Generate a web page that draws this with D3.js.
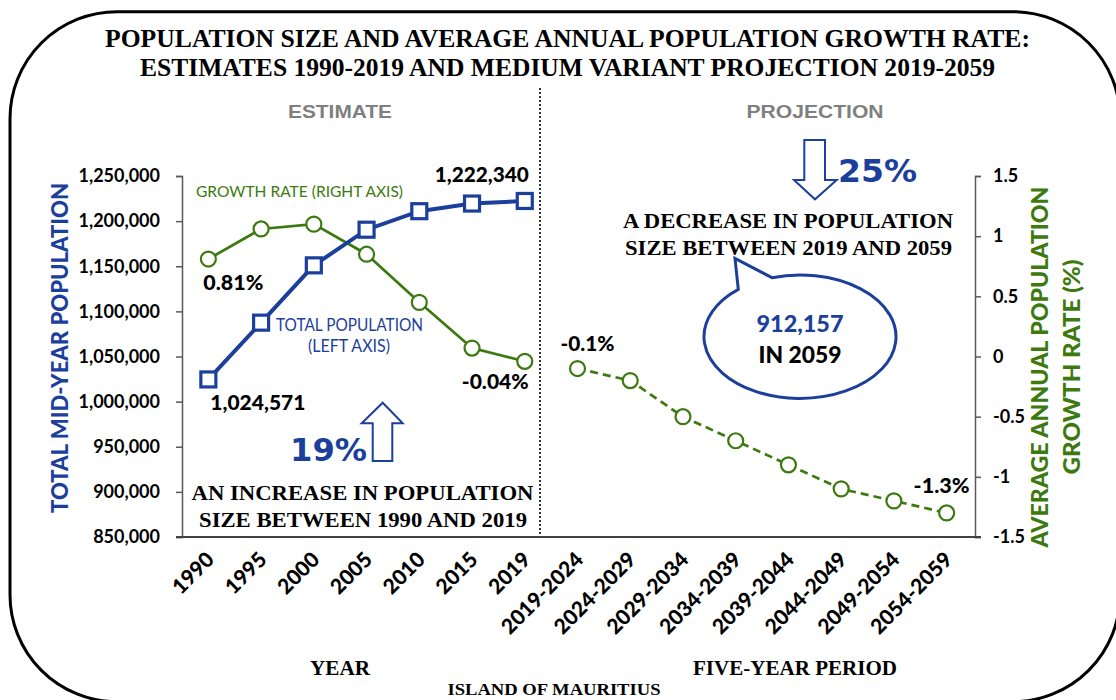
<!DOCTYPE html>
<html><head><meta charset="utf-8">
<script src="https://cdn.jsdelivr.net/npm/d3@7"></script>
<style>body{margin:0;background:#fff}svg{display:block}</style>
</head><body>
<svg id="chart" width="1116" height="700"></svg>
<script>
// ---- data ----
const estimateYears = ["1990","1995","2000","2005","2010","2015","2019"];
const projectionPeriods = ["2019-2024","2024-2029","2029-2034","2034-2039","2039-2044","2044-2049","2049-2054","2054-2059"];
const categories = estimateYears.concat(projectionPeriods);
const totalPopulation = [1024571, 1087500, 1151000, 1190500, 1211000, 1219500, 1222340];
const growthEstimate = [0.81, 1.06, 1.10, 0.85, 0.45, 0.07, -0.04];
const growthProjection = [-0.1, -0.2, -0.5, -0.7, -0.9, -1.1, -1.2, -1.3];
const populationTicks = [850000, 900000, 950000, 1000000, 1050000, 1100000, 1150000, 1200000, 1250000];
const rateTicks = [-1.5, -1, -0.5, 0, 0.5, 1, 1.5];

// ---- styles ----
const BLUE = "#1c3f9c", GREEN = "#3c7a10", GRAY = "#7f7f7f", AXIS = "#595959";
const SANS = "Lato, 'Open Sans', sans-serif";
const SERIF = "'Liberation Serif', 'Times New Roman', serif";
const BIG = "'DejaVu Sans', Verdana, sans-serif";
const ARIAL = "'Liberation Sans', Arial, sans-serif";

const svg = d3.select("#chart");
svg.append("rect").attr("width",1116).attr("height",700).attr("fill","#fff");

// frame
svg.append("rect").attr("x",10).attr("y",11.7).attr("width",1110).attr("height",690)
  .attr("rx",107).attr("ry",107).attr("fill","none").attr("stroke","#000").attr("stroke-width",3);

const x = d3.scaleBand().domain(categories).range([182, 973]).paddingInner(0).paddingOuter(0);
const cx = d => x(d) + x.bandwidth()/2;
const yL = d3.scaleLinear().domain([850000, 1250000]).range([537, 176]);
const yR = d3.scaleLinear().domain([-1.5, 1.5]).range([537, 176]);

function txt(t, xx, yy, o) {
  const e = svg.append("text").attr("x", xx).attr("y", yy).text(t)
    .attr("font-family", o.family || SANS).attr("font-size", o.size)
    .attr("font-weight", o.weight || "bold").attr("fill", o.fill || "#000")
    .attr("text-anchor", o.anchor || "start");
  if (o.len) e.attr("textLength", o.len).attr("lengthAdjust", "spacingAndGlyphs");
  if (o.transform) e.attr("transform", o.transform);
  return e;
}

// title
txt("POPULATION SIZE AND AVERAGE ANNUAL POPULATION GROWTH RATE:", 105, 47, {family:SERIF, size:26, len:925});
txt("ESTIMATES 1990-2019 AND MEDIUM VARIANT PROJECTION 2019-2059", 140, 76, {family:SERIF, size:26, len:855});

// section headings
txt("ESTIMATE", 340, 118, {family:ARIAL, size:18, fill:GRAY, anchor:"middle", len:104});
txt("PROJECTION", 815, 118, {family:ARIAL, size:18, fill:GRAY, anchor:"middle", len:137});

// divider
svg.append("line").attr("x1",540).attr("x2",540).attr("y1",88).attr("y2",537)
  .attr("stroke","#333").attr("stroke-width",2).attr("stroke-dasharray","2,2");

// axes
const gL = svg.append("g").attr("transform","translate(182,0)")
  .call(d3.axisLeft(yL).tickValues(populationTicks).tickFormat(d3.format(",")).tickSize(6).tickPadding(16));
const gR = svg.append("g").attr("transform","translate(975,0)")
  .call(d3.axisRight(yR).tickValues(rateTicks).tickFormat(d => String(d)).tickSize(6).tickPadding(12));
[gL, gR].forEach(g => {
  g.select(".domain").attr("stroke", AXIS).attr("stroke-width", 1.5);
  g.selectAll(".tick line").attr("stroke", AXIS).attr("stroke-width", 1.5);
  g.selectAll(".tick text").attr("font-family", SANS).attr("font-size", 18).attr("font-weight","bold").attr("fill","#000");
});
svg.append("line").attr("x1",176).attr("x2",981).attr("y1",537).attr("y2",537)
  .attr("stroke","#404040").attr("stroke-width",2);

// x tick labels
svg.append("g").selectAll("text").data(categories).join("text")
  .attr("transform", d => `translate(${cx(d)+7},561) rotate(-45)`)
  .attr("text-anchor","end").attr("font-family",SANS).attr("font-size",21).attr("font-weight","900")
  .text(d => d);

// axis titles
txt("TOTAL MID-YEAR POPULATION", 68, 348, {size:22, weight:"900", fill:BLUE, anchor:"middle", len:330, transform:"rotate(-90,68,348)"});
txt("AVERAGE ANNUAL POPULATION", 1048, 367, {size:22, weight:"900", fill:GREEN, anchor:"middle", len:361, transform:"rotate(-90,1048,367)"});
txt("GROWTH RATE (%)", 1079.5, 367, {size:22, weight:"900", fill:GREEN, anchor:"middle", len:215, transform:"rotate(-90,1079.5,367)"});
txt("YEAR", 340, 675, {family:SERIF, size:20, anchor:"middle", len:60});
txt("FIVE-YEAR PERIOD", 795, 675, {family:SERIF, size:20, anchor:"middle", len:204});
txt("ISLAND OF MAURITIUS", 554, 695, {family:SERIF, size:17, anchor:"middle", len:213});

// growth rate lines
const estPts = estimateYears.map((c,i) => [cx(c), yR(growthEstimate[i])]);
const projPts = projectionPeriods.map((c,i) => [cx(c), yR(growthProjection[i])]);
const line = d3.line();
svg.append("path").attr("d", line(estPts)).attr("fill","none").attr("stroke",GREEN).attr("stroke-width",2.7);
svg.append("path").attr("d", line(projPts)).attr("fill","none").attr("stroke",GREEN).attr("stroke-width",2.7)
  .attr("stroke-dasharray","8,5");
svg.append("g").selectAll("circle").data(estPts.concat(projPts)).join("circle")
  .attr("cx", d => d[0]).attr("cy", d => d[1]).attr("r", 7.5)
  .attr("fill","#fff").attr("stroke",GREEN).attr("stroke-width",2.2);

// population line
const popPts = estimateYears.map((c,i) => [cx(c), yL(totalPopulation[i])]);
svg.append("path").attr("d", line(popPts)).attr("fill","none").attr("stroke",BLUE).attr("stroke-width",4);
svg.append("g").selectAll("rect").data(popPts).join("rect")
  .attr("x", d => d[0]-7.5).attr("y", d => d[1]-7.5).attr("width",15).attr("height",15)
  .attr("fill","#fff").attr("stroke",BLUE).attr("stroke-width",3.2);

// value labels (anchored to data points)
const fmt = d3.format(",");
const p0 = popPts[0], pN = popPts[popPts.length-1];
txt(fmt(totalPopulation[0]), p0[0]+2, p0[1]+31, {size:20, weight:"900", len:95});
txt(fmt(totalPopulation[totalPopulation.length-1]), pN[0]+4, pN[1]-19, {size:20, weight:"900", anchor:"end", len:94});
const g0 = estPts[0], gN = estPts[estPts.length-1];
txt(growthEstimate[0] + "%", g0[0]-5, g0[1]+31, {size:20, weight:"900", len:60});
txt(growthEstimate[growthEstimate.length-1] + "%", gN[0]+4, gN[1]+28, {size:20, weight:"900", anchor:"end", len:67});
const q0 = projPts[0], qN = projPts[projPts.length-1];
txt(growthProjection[0] + "%", q0[0]-17, q0[1]-18, {size:20, weight:"900", len:54});
txt(growthProjection[growthProjection.length-1] + "%", qN[0]-33, qN[1]-20, {size:20, weight:"900", len:56});

// series labels
txt("GROWTH RATE (RIGHT AXIS)", 196, 196.7, {size:16, weight:"normal", fill:GREEN, len:207});
txt("TOTAL POPULATION", 349.5, 330.7, {size:17, weight:"normal", fill:BLUE, anchor:"middle", len:147});
txt("(LEFT AXIS)", 349, 351.7, {size:17, weight:"normal", fill:BLUE, anchor:"middle", len:82});

// increase annotation
svg.append("path").attr("d","M382.7,402.7 L402.7,423.3 L392.3,423.3 L392.3,461 L372.7,461 L372.7,423.3 L361.7,423.3 Z")
  .attr("fill","#fff").attr("stroke",BLUE).attr("stroke-width",2);
txt("19%", 290, 461, {family:BIG, size:32, fill:BLUE, len:77});
txt("AN INCREASE IN POPULATION", 362.5, 500, {family:SERIF, size:20, anchor:"middle", len:342});
txt("SIZE BETWEEN 1990 AND 2019", 363, 527, {family:SERIF, size:20, anchor:"middle", len:328});

// decrease annotation
svg.append("path").attr("d","M804.3,140 L825,140 L825,180 L836.7,180 L815,199.3 L794,180 L804.3,180 Z")
  .attr("fill","#fff").attr("stroke",BLUE).attr("stroke-width",2);
txt("25%", 838, 181.7, {family:BIG, size:32, fill:BLUE, len:79});
txt("A DECREASE IN POPULATION", 788, 228, {family:SERIF, size:20, anchor:"middle", len:330});
txt("SIZE BETWEEN 2019 AND 2059", 788.5, 255, {family:SERIF, size:20, anchor:"middle", len:327});

// speech bubble
const ecx = 800, ecy = 336.7, erx = 96, ery = 61.7;
const ep = a => [ecx + erx*Math.cos(a*Math.PI/180), ecy + ery*Math.sin(a*Math.PI/180)];
const a1 = ep(-107), a2 = ep(-130);
svg.append("path")
  .attr("d", `M${a1[0]},${a1[1]} L735,258.3 L${a2[0]},${a2[1]} A${erx},${ery} 0 1 0 ${a1[0]},${a1[1]} Z`)
  .attr("fill","#fff").attr("stroke",BLUE).attr("stroke-width",3).attr("stroke-linejoin","miter");
txt("912,157", 800, 331.7, {size:22, weight:"900", fill:BLUE, anchor:"middle", len:87});
txt("IN 2059", 800, 363.3, {size:22, weight:"900", anchor:"middle", len:83});
</script>
</body></html>
